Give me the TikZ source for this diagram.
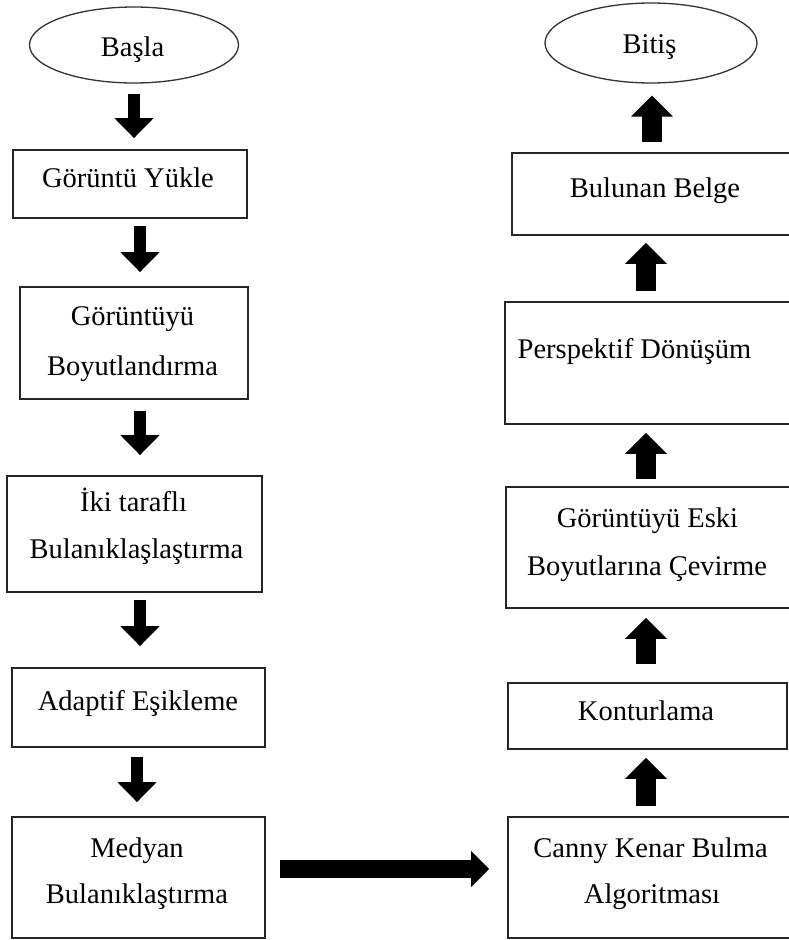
\documentclass[tikz,border=0pt]{standalone}
\usepackage{fontspec}
\setmainfont{Liberation Serif}
\usetikzlibrary{arrows.meta,shapes.geometric,calc}
\begin{document}
\begin{tikzpicture}[x=1pt,y=-1pt,
  boxnode/.style={draw=black!85,line width=1.8pt,rectangle,inner sep=0pt},
  ovalnode/.style={draw=black!80,line width=1.3pt,ellipse,inner sep=0pt},
  txt/.style={anchor=base,inner sep=0pt,font=\fontsize{28.5}{34}\selectfont},
  larrow/.style={line width=12pt,-{Triangle[width=38pt,length=20pt]}},
  rarrow/.style={line width=20pt,-{Triangle[width=41pt,length=21pt]}},
  harrow/.style={line width=18pt,-{Triangle[width=35pt,length=18pt]}}]
\useasboundingbox (0,0) rectangle (789,940);
\clip (0,0) rectangle (789,940);
\fill[white] (0,0) rectangle (789,940);
% left column
\node[ovalnode,minimum width=209pt,minimum height=76pt] (start) at (134,45) {};
\node[txt] (tstart) at (132.5,56) {Başla};
\node[boxnode,minimum width=234pt,minimum height=68pt] (b1) at (130,184) {};
\node[txt] (t1) at (128,187) {Görüntü Yükle};
\node[boxnode,minimum width=228pt,minimum height=112pt] (b2) at (134,343) {};
\node[txt] (t2a) at (132.5,325) {Görüntüyü};
\node[txt] (t2b) at (132.5,375) {Boyutlandırma};
\node[boxnode,minimum width=255pt,minimum height=116pt] (b3) at (134.5,534) {};
\node[txt] (t3a) at (133.5,511) {İki taraflı};
\node[txt] (t3b) at (136.5,558) {Bulanıklaşlaştırma};
\node[boxnode,minimum width=253pt,minimum height=79pt] (b4) at (138.5,707.5) {};
\node[txt] (t4) at (138,710) {Adaptif Eşikleme};
\node[boxnode,minimum width=253pt,minimum height=121pt] (b5) at (138.5,877.5) {};
\node[txt] (t5a) at (137,857) {Medyan};
\node[txt] (t5b) at (137,903) {Bulanıklaştırma};
% right column
\node[ovalnode,minimum width=212pt,minimum height=80pt] (end) at (651,43) {};
\node[txt] (tend) at (649.5,53) {Bitiş};
\node[boxnode,minimum width=300pt,minimum height=82pt] (r1) at (662,194) {};
\node[txt] (tr1) at (655,197) {Bulunan Belge};
\node[boxnode,minimum width=310pt,minimum height=122pt] (r2) at (660,363) {};
\node[txt] (tr2) at (634.5,358) {Perspektif Dönüşüm};
\node[boxnode,minimum width=310pt,minimum height=121pt] (r3) at (661,547.5) {};
\node[txt] (tr3a) at (647.5,527) {Görüntüyü Eski};
\node[txt] (tr3b) at (647,575) {Boyutlarına Çevirme};
\node[boxnode,minimum width=279pt,minimum height=66pt] (r4) at (647.5,716) {};
\node[txt] (tr4) at (646,720) {Konturlama};
\node[boxnode,minimum width=310pt,minimum height=121pt] (r5) at (663,877.5) {};
\node[txt] (tr5a) at (650.5,857) {Canny Kenar Bulma};
\node[txt] (tr5b) at (652,903) {Algoritması};
% left arrows
\draw[larrow,shorten <=10pt,shorten >=11pt] (start.south) -- (start.south |- b1.north);
\draw[larrow,shorten <=7pt,shorten >=14pt] (b1.south -| 140,0) -- (b2.north -| 140,0);
\draw[larrow,shorten <=11pt,shorten >=20pt] (b2.south -| 140,0) -- (b3.north -| 140,0);
\draw[larrow,shorten <=7pt,shorten >=21pt] (b3.south -| 140,0) -- (b4.north -| 140,0);
\draw[larrow,shorten <=9pt,shorten >=14pt] (b4.south -| 137,0) -- (b5.north -| 137,0);
% horizontal arrow
\draw[harrow,shorten <=14pt,shorten >=18pt] (b5.east |- 0,869) -- (r5.west |- 0,869);
% right arrows
\draw[rarrow,shorten <=10pt,shorten >=12pt] (r1.north -| 652,0) -- (end.south -| 652,0);
\draw[rarrow,shorten <=10pt,shorten >=7pt] (r2.north -| 646,0) -- (r1.south -| 646,0);
\draw[rarrow,shorten <=7pt,shorten >=8pt] (r3.north -| 646,0) -- (r2.south -| 646,0);
\draw[rarrow,shorten <=18pt,shorten >=9pt] (r4.north -| 646,0) -- (r3.south -| 646,0);
\draw[rarrow,shorten <=10pt,shorten >=8pt] (r5.north -| 646,0) -- (r4.south -| 646,0);
\end{tikzpicture}
\end{document}
